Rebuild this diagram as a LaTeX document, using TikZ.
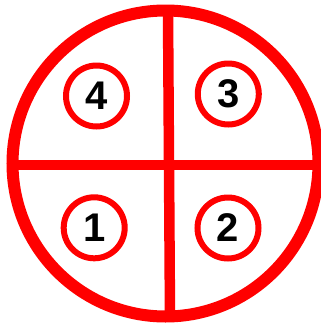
\documentclass[tikz,border=0pt]{standalone}
\usepackage{fontspec}
\setmainfont{Liberation Sans}
\usetikzlibrary{calc}

\begin{document}
\begin{tikzpicture}[x=1pt,y=-1pt,
    ring/.style={draw=red,line width=12pt},
    bar/.style={draw=red,line width=10.5pt},
    pin/.style={circle,draw=red,line width=6pt,minimum size=61pt,inner sep=0pt,
      font=\fontsize{40}{40}\selectfont\bfseries}]
    \useasboundingbox (0,0) rectangle (321,325);
    % cross
    \draw[bar] (168,10) -- (170,318);
    \draw[bar] (12,165) -- (319,165);
    % outer ring
    \draw[ring] (165.5,163.5) circle[radius=153];
    % contacts
    \node[pin] (pin4) at (96.5,96) {4};
    \node[pin] (pin3) at (228.3,94) {3};
    \node[pin] (pin1) at (94.2,227.8) {1};
    \node[pin] (pin2) at (228,228) {2};
  \end{tikzpicture}
\end{document}
